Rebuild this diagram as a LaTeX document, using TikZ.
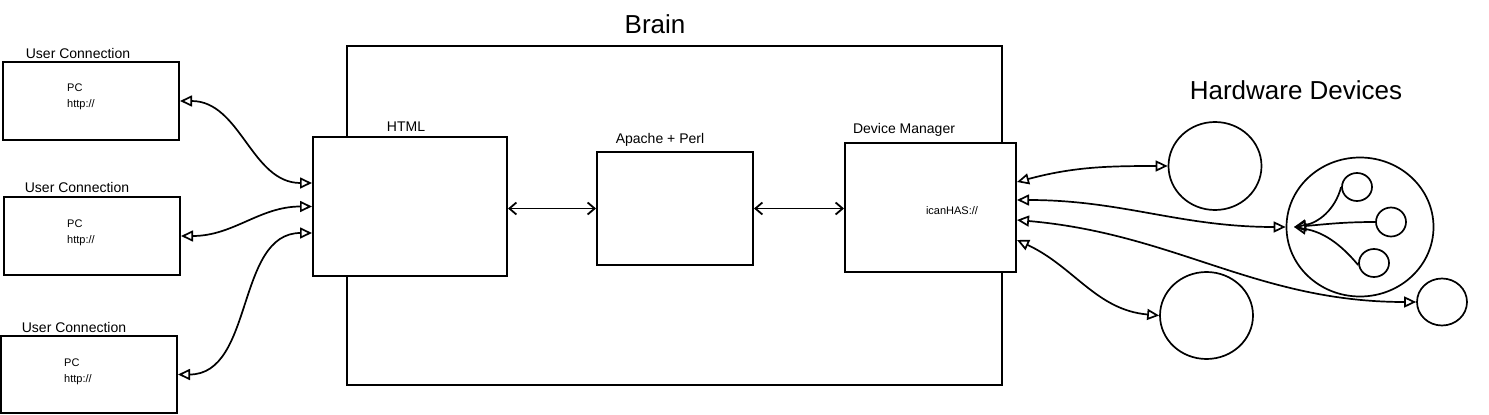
\documentclass[tikz,border=0pt]{standalone}
\usepackage{fontspec}
\setmainfont{Liberation Sans}
\usetikzlibrary{arrows.meta}
\usetikzlibrary{shapes.geometric}
\tikzset{
  box/.style={draw, fill=white, line width=2pt, inner sep=0pt},
  blob/.style={draw, ellipse, line width=1.7pt, inner sep=0pt},
  tag/.style={font=\fontsize{14}{16}\selectfont, inner sep=0pt},
  small/.style={font=\fontsize{11}{16}\selectfont, inner sep=0pt, align=left},
  big/.style={font=\fontsize{26}{28}\selectfont, inner sep=0pt},
  link/.style={line width=1.7pt, {Triangle[open,length=12pt,width=11pt]}-{Triangle[open,length=12pt,width=11pt]}},
  pipe/.style={line width=1.8pt, {Straight Barb[length=7pt,width=12pt]}-{Straight Barb[length=7pt,width=12pt]}},
  feed/.style={line width=1.7pt, -{Triangle[open,length=12pt,width=11pt]}}
}
\begin{document}
\begin{tikzpicture}[x=1pt,y=-1pt]
      \useasboundingbox (0,0) rectangle (1489,415);

      \node[box, minimum width=655, minimum height=339] (brain) at (674.5,215.5) {};
      \node[big] (braintag) at (655,24) {Brain};

      \node[box, minimum width=176, minimum height=78] (pc1) at (91,101) {};
      \node[box, minimum width=176, minimum height=78] (pc2) at (92,236) {};
      \node[box, minimum width=176, minimum height=77] (pc3) at (89,374.5) {};
      \node[tag] (pc1tag) at (78,53) {User Connection};
      \node[tag] (pc2tag) at (77,187) {User Connection};
      \node[tag] (pc3tag) at (74,327) {User Connection};
      \node[small, anchor=west] (pc1txt) at (67,97) {PC\\http://};
      \node[small, anchor=west] (pc2txt) at (67,233) {PC\\http://};
      \node[small, anchor=west] (pc3txt) at (64,372) {PC\\http://};

      \node[box, minimum width=194, minimum height=139] (html) at (410,206.5) {};
      \node[box, minimum width=156, minimum height=113] (perl) at (675,208.5) {};
      \node[box, minimum width=171, minimum height=129] (dm) at (930.5,207.5) {};
      \node[tag] (htmltag) at (406,127) {HTML};
      \node[tag] (perltag) at (660,140) {Apache + Perl};
      \node[tag] (dmtag) at (904,130) {Device Manager};
      \node[small] (dmtxt) at (952,211) {icanHAS://};

      \node[big] (hwtag) at (1296,90) {Hardware Devices};
      \node[blob, minimum width=93, minimum height=88] (dev1) at (1215,166) {};
      \node[blob, minimum width=147, minimum height=139] (hub) at (1360,227) {};
      \node[blob, minimum width=30, minimum height=28] (sub1) at (1357,187) {};
      \node[blob, minimum width=30, minimum height=29] (sub2) at (1391,222) {};
      \node[blob, minimum width=30, minimum height=28] (sub3) at (1374,263) {};
      \node[blob, minimum width=93, minimum height=87] (dev3) at (1206.5,315.5) {};
      \node[blob, minimum width=50, minimum height=47] (dev4) at (1442,302) {};
      \coordinate (hubin) at (1294,227);

      \path[link] (pc1.east) edge[out=0, in=180] ([yshift=23.5]html.west);
      \path[link] (pc2.east) edge[out=0, in=180] (html.west);
      \path[link] (pc3.east) edge[out=0, in=180] ([yshift=-26.5]html.west);

      \path[pipe] (html.east |- perl.west) edge (perl.west);
      \path[pipe] (perl.east) edge (dm.west |- perl.east);

      \path[link] ([yshift=25.5]dm.east) edge[out=15, in=180] (dev1.west);
      \path[link] ([yshift=7.5]dm.east) edge[out=0, in=180] (hub.west);
      \path[link] ([yshift=-12.5]dm.east) edge[out=-5, in=180] (dev4.west);
      \path[link] ([yshift=-32.5]dm.east) edge[out=-25, in=175] (dev3.west);

      \path[feed] (sub1.west) edge[out=-105, in=10] (hubin);
      \path[feed] (sub2.west) edge[out=180, in=5] (hubin);
      \path[feed] ([yshift=-2]sub3.west) edge[out=130, in=-10] (hubin);
    \end{tikzpicture}
\end{document}
